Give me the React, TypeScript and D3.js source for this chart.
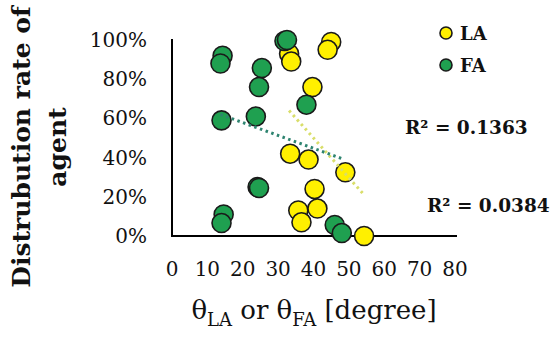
import React, { useEffect, useRef } from "react";
import * as d3 from "d3";

// LA series (yellow)
const laAngle = [33.1, 33.7, 45, 44, 39.7, 33.4, 38.6, 49, 40.3, 41.1, 35.7, 36.6, 54.3];
const laRate = [0.93, 0.89, 0.99, 0.95, 0.76, 0.42, 0.39, 0.325, 0.24, 0.14, 0.13, 0.07, 0.0];

// FA series (green)
const faAngle = [14.3, 13.7, 25.4, 24.6, 31.8, 32.5, 38, 14, 23.7, 24.2, 24.6, 14.6, 14, 46, 48];
const faRate = [0.92, 0.88, 0.857, 0.76, 0.995, 1.0, 0.67, 0.59, 0.61, 0.25, 0.245, 0.11, 0.066, 0.056, 0.015];

// trend line end points
const laTrendX = [33.1, 54.3];
const laTrendY = [0.64, 0.21];
const faTrendX = [13.7, 48];
const faTrendY = [0.62, 0.395];

const xTicks = [0, 10, 20, 30, 40, 50, 60, 70, 80];
const yTicks = [0, 0.2, 0.4, 0.6, 0.8, 1.0];

const seriesNames = ["LA", "FA"];
const r2Labels = ["R\u00b2 = 0.1363", "R\u00b2 = 0.0384"];

const YELLOW = "#FFF000";
const GREEN = "#1FA050";
const FONT = "'DejaVu Serif', serif";

const App = () => {
  const container = useRef<HTMLDivElement>(null);

  useEffect(() => {
    const width = 550;
    const height = 341;
    d3.select(container.current).select("svg").remove();

    const svg = d3
      .select(container.current)
      .append("svg")
      .attr("width", width)
      .attr("height", height)
      .style("display", "block")
      .style("background", "#fff");

    const x = d3.scaleLinear().domain([0, 80]).range([172, 455]);
    const y = d3.scaleLinear().domain([0, 1]).range([236, 40]);

    // axis lines
    svg
      .append("line")
      .attr("x1", x(0))
      .attr("x2", x(0))
      .attr("y1", y(1) - 1)
      .attr("y2", y(0) + 1)
      .attr("stroke", "#000")
      .attr("stroke-width", 2);
    svg
      .append("line")
      .attr("x1", x(0) - 1)
      .attr("x2", x(80) + 2)
      .attr("y1", y(0))
      .attr("y2", y(0))
      .attr("stroke", "#000")
      .attr("stroke-width", 2);

    // tick labels
    svg
      .append("g")
      .selectAll("text")
      .data(yTicks)
      .join("text")
      .attr("x", 147)
      .attr("y", (d) => y(d) + 7)
      .attr("text-anchor", "end")
      .style("font-family", FONT)
      .style("font-size", "20px")
      .style("fill", "#111")
      .text((d) => d3.format(".0%")(d));

    svg
      .append("g")
      .selectAll("text")
      .data(xTicks)
      .join("text")
      .attr("x", (d) => x(d))
      .attr("y", 276)
      .attr("text-anchor", "middle")
      .style("font-family", FONT)
      .style("font-size", "20px")
      .style("fill", "#111")
      .text((d) => d);

    // x title
    const xt = svg
      .append("text")
      .attr("x", 314)
      .attr("y", 319)
      .attr("text-anchor", "middle")
      .style("font-family", FONT)
      .style("font-size", "26px")
      .style("fill", "#111");
    xt.append("tspan").text("\u03b8");
    xt.append("tspan").attr("dy", 7).style("font-size", "18px").text("LA");
    xt.append("tspan").attr("dy", -7).text(" or \u03b8");
    xt.append("tspan").attr("dy", 7).style("font-size", "18px").text("FA");
    xt.append("tspan").attr("dy", -7).text(" [degree]");

    // y title
    const yt = svg
      .append("text")
      .attr("transform", "translate(30,147) rotate(-90)")
      .attr("text-anchor", "middle")
      .style("font-family", FONT)
      .style("font-size", "25px")
      .style("font-weight", "bold")
      .style("fill", "#111");
    yt.append("tspan").attr("x", 0).attr("y", 0).text("Distrubution rate of");
    yt.append("tspan").attr("x", 0).attr("y", 36).text("agent");

    // trend lines
    const line = d3
      .line<number>()
      .x((d) => x(d[0]))
      .y((d) => y(d[1]));
    const trends = [
      { xs: laTrendX, ys: laTrendY, color: "#D9DE6A" },
      { xs: faTrendX, ys: faTrendY, color: "#2E8470" },
    ];

    // points
    const series = [
      { xs: laAngle, ys: laRate, color: YELLOW },
      { xs: faAngle, ys: faRate, color: GREEN },
    ];
    series.forEach((s) => {
      svg
        .append("g")
        .selectAll("circle")
        .data(s.xs.map((v, i) => [v, s.ys[i]]))
        .join("circle")
        .attr("cx", (d) => x(d[0]))
        .attr("cy", (d) => y(d[1]))
        .attr("r", 9.5)
        .attr("fill", s.color)
        .attr("stroke", "#1a1a1a")
        .attr("stroke-width", 1.6);
    });

    trends.forEach((t) => {
      svg
        .append("path")
        .attr("d", line(t.xs.map((v, i) => [v, t.ys[i]]) as any) as string)
        .attr("fill", "none")
        .attr("stroke", t.color)
        .attr("stroke-width", 3)
        .attr("stroke-dasharray", "2.5 3.5");
    });

    // legend
    const legend = svg.append("g");
    seriesNames.forEach((name, i) => {
      legend
        .append("circle")
        .attr("cx", 446)
        .attr("cy", 33 + i * 32)
        .attr("r", 6)
        .attr("fill", i === 0 ? YELLOW : GREEN)
        .attr("stroke", "#1a1a1a")
        .attr("stroke-width", 1.6);
      legend
        .append("text")
        .attr("x", 460)
        .attr("y", 40 + i * 32)
        .style("font-family", FONT)
        .style("font-size", "18px")
        .style("font-weight", "bold")
        .style("fill", "#111")
        .text(name);
    });

    // R² labels
    const r2Pos = [
      [405, 134],
      [427, 212],
    ];
    r2Labels.forEach((lab, i) => {
      svg
        .append("text")
        .attr("x", r2Pos[i][0])
        .attr("y", r2Pos[i][1])
        .style("font-family", FONT)
        .style("font-size", "18.5px")
        .style("font-weight", "bold")
        .style("fill", "#111")
        .text(lab);
    });
  }, []);

  return (
    <div
      ref={container}
      style={{ position: "absolute", left: 0, top: 0, width: 550, height: 341 }}
    ></div>
  );
};

export default App;
